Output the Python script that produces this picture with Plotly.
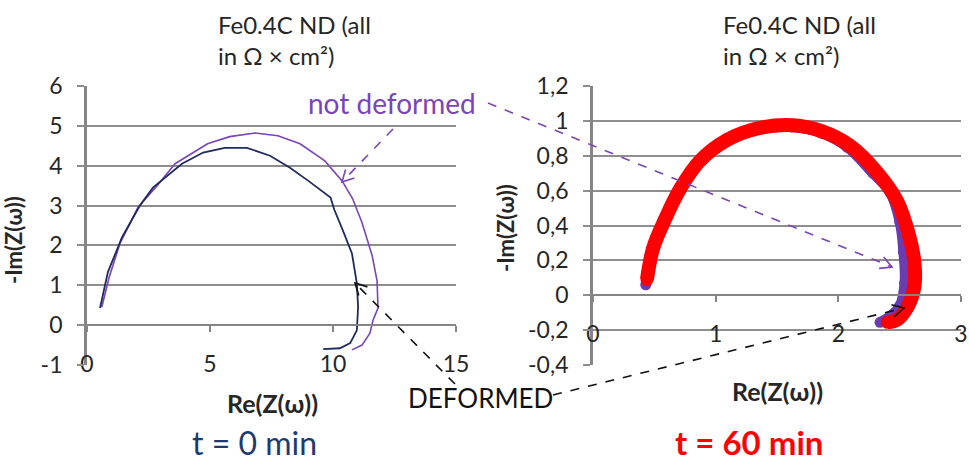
import math
import plotly.graph_objects as go

# ---------------- data ----------------
# t = 0 min (left panel)
left_def_re = [0.53, 0.85, 1.42, 2.15, 2.68, 3.86, 4.72, 5.6, 6.5, 7.44, 8.25, 9.0, 9.9, 10.05, 10.4, 10.77, 10.97, 11.02, 10.97, 10.7, 10.28, 9.6]
left_def_im = [0.43, 1.33, 2.2, 3.0, 3.45, 4.05, 4.33, 4.45, 4.45, 4.25, 3.95, 3.62, 3.2, 2.9, 2.38, 1.8, 1.05, 0.45, -0.13, -0.45, -0.58, -0.6]
left_nd_re = [0.6, 0.9, 1.34, 2.07, 2.85, 3.58, 4.9, 5.8, 6.83, 7.76, 8.66, 9.67, 10.37, 10.8, 11.18, 11.59, 11.79, 11.83, 11.63, 11.5, 11.18, 10.77]
left_nd_im = [0.45, 1.2, 2.05, 2.95, 3.5, 4.05, 4.55, 4.73, 4.82, 4.75, 4.55, 4.12, 3.62, 3.17, 2.57, 1.75, 1.12, 0.43, 0.13, -0.2, -0.5, -0.62]

# t = 60 min (right panel)
right_def_re = [0.44, 0.49, 0.59, 0.71, 0.87, 1.09, 1.36, 1.63, 1.87, 2.09, 2.31, 2.48, 2.57, 2.62, 2.62, 2.57, 2.48, 2.4]
right_def_im = [0.09, 0.27, 0.44, 0.61, 0.77, 0.89, 0.96, 0.975, 0.94, 0.86, 0.71, 0.54, 0.36, 0.19, 0.05, -0.06, -0.14, -0.155]
right_nd_re = [0.43, 0.48, 0.58, 0.70, 0.86, 1.08, 1.35, 1.62, 1.86, 2.07, 2.28, 2.42, 2.5, 2.53, 2.54, 2.5, 2.42, 2.34]
right_nd_im = [0.06, 0.25, 0.43, 0.60, 0.76, 0.88, 0.95, 0.965, 0.93, 0.85, 0.70, 0.59, 0.42, 0.25, 0.07, -0.06, -0.12, -0.155]

# ticks
left_x_ticks = [0, 5, 10, 15]
left_x_text = ["0", "5", "10", "15"]
left_y_ticks = [-1, 0, 1, 2, 3, 4, 5, 6]
left_y_text = ["-1", "0", "1", "2", "3", "4", "5", "6"]
right_x_ticks = [0, 1, 2, 3]
right_x_text = ["0", "1", "2", "3"]
right_y_ticks = [-0.4, -0.2, 0, 0.2, 0.4, 0.6, 0.8, 1.0, 1.2]
right_y_text = ["-0,4", "-0,2", "0", "0,2", "0,4", "0,6", "0,8", "1", "1,2"]

# ---------------- layout helpers ----------------
W, H = 969, 462
FONT = "Lato, 'Open Sans', sans-serif"
NAVY = "#1f2b5e"
PURPLE = "#7a45b6"
GRID = "#8e8e8e"
AXIS = "#858585"


def px(x):
    return x / W


def py(y):
    return 1 - y / H


ydom = [py(365), py(86)]
lxdom = [px(87), px(456)]
rxdom = [px(593), px(961)]
lpos = ydom[0] + (0 - (-1)) / 7 * (ydom[1] - ydom[0])
rpos = ydom[0] + (0 - (-0.4)) / 1.6 * (ydom[1] - ydom[0])

fig = go.Figure()
fig.add_trace(go.Scatter(x=left_nd_re, y=left_nd_im, mode="lines", line=dict(color=PURPLE, width=1.6),
                         xaxis="x", yaxis="y", name="not deformed"))
fig.add_trace(go.Scatter(x=left_def_re, y=left_def_im, mode="lines", line=dict(color=NAVY, width=1.8),
                         xaxis="x", yaxis="y", name="deformed"))
fig.add_trace(go.Scatter(x=right_nd_re, y=right_nd_im, mode="lines+markers",
                         line=dict(color="#6a3cb0", width=10, shape="spline", smoothing=1),
                         marker=dict(color="#6a3cb0", size=11),
                         xaxis="x2", yaxis="y2", name="not deformed"))
fig.add_trace(go.Scatter(x=right_def_re, y=right_def_im, mode="lines+markers",
                         line=dict(color="#ff0000", width=14, shape="spline", smoothing=1),
                         marker=dict(color="#ff0000", size=13),
                         xaxis="x2", yaxis="y2", name="deformed"))

tickfont = dict(family=FONT, size=23, color="#262626")

common_x = dict(anchor="free", showline=True, linecolor=AXIS, linewidth=2.2, ticks="outside",
                ticklen=6, tickwidth=1.5, tickcolor=AXIS, showgrid=False, zeroline=False,
                tickfont=tickfont, ticklabelstandoff=12, fixedrange=True)
common_y = dict(showline=True, linecolor=AXIS, linewidth=2.8, ticks="outside", ticklen=7,
                tickwidth=1.5, tickcolor=GRID, showgrid=True, gridcolor=GRID, gridwidth=1.5,
                zeroline=False, tickfont=tickfont, ticklabelstandoff=10, fixedrange=True)

fig.update_layout(
    width=W, height=H, margin=dict(l=0, r=0, t=0, b=0, autoexpand=False),
    paper_bgcolor="white", plot_bgcolor="white", showlegend=False,
    font=dict(family=FONT),
    xaxis=dict(domain=lxdom, range=[0, 15], position=lpos, tickvals=left_x_ticks, ticktext=left_x_text, **common_x),
    yaxis=dict(domain=ydom, range=[-1, 6], anchor="x", tickvals=left_y_ticks, ticktext=left_y_text, **common_y),
    xaxis2=dict(domain=rxdom, range=[0, 3], position=rpos, tickvals=right_x_ticks, ticktext=right_x_text, **common_x),
    yaxis2=dict(domain=ydom, range=[-0.4, 1.2], anchor="x2", tickvals=right_y_ticks, ticktext=right_y_text, **common_y),
)

ann = []


def text(x, y, s, size, color="#262626", xanchor="center", yanchor="middle", angle=0, align="center"):
    ann.append(dict(x=px(x), y=py(y), xref="paper", yref="paper", text=s, showarrow=False,
                    xanchor=xanchor, yanchor=yanchor, textangle=angle, align=align,
                    font=dict(family=FONT, size=size, color=color)))


# titles
text(216, 8, "Fe0.4C ND (all<br>in Ω × cm²)", 24, xanchor="left", yanchor="top", align="left")
text(721, 8, "Fe0.4C ND (all<br>in Ω × cm²)", 24, xanchor="left", yanchor="top", align="left")
# axis titles
text(14, 240, "<b>-Im(Z(ω))</b>", 22, angle=-90)
text(506, 228, "<b>-Im(Z(ω))</b>", 22, angle=-90)
text(272, 403, "<b>Re(Z(ω))</b>", 25)
text(777, 391, "<b>Re(Z(ω))</b>", 25)
# labels
text(478, 103, "not deformed", 28, color=PURPLE, xanchor="right")
text(406, 398, "DEFORMED", 26, color="#111111", xanchor="left")
text(254, 442, "t = 0 min", 32, color="#1f3a6e")
text(749, 442, "<b>t = 60 min</b>", 33, color="#ff0000")

fig.update_layout(annotations=ann)

shapes = []


def arrow(x1, y1, x2, y2, color, L=13, ang=28):
    shapes.append(dict(type="line", xref="paper", yref="paper", x0=px(x1), y0=py(y1), x1=px(x2), y1=py(y2),
                       line=dict(color=color, width=1.6, dash="dash")))
    dx, dy = x2 - x1, y2 - y1
    n = math.hypot(dx, dy)
    ux, uy = dx / n, dy / n
    pts = []
    for s in (1, -1):
        a = math.radians(ang * s)
        rx = ux * math.cos(a) - uy * math.sin(a)
        ry = ux * math.sin(a) + uy * math.cos(a)
        pts.append((x2 - L * rx, y2 - L * ry))
    path = "M {} {} L {} {} L {} {}".format(px(pts[0][0]), py(pts[0][1]), px(x2), py(y2), px(pts[1][0]), py(pts[1][1]))
    shapes.append(dict(type="path", xref="paper", yref="paper", path=path, line=dict(color=color, width=1.6)))


arrow(393, 129, 342, 182, PURPLE)
arrow(488, 103, 892, 267, PURPLE)
arrow(455, 384, 355, 283, "#111111")
arrow(553, 395, 904, 308, "#111111")

fig.update_layout(shapes=shapes)
fig.write_html("out.html")
